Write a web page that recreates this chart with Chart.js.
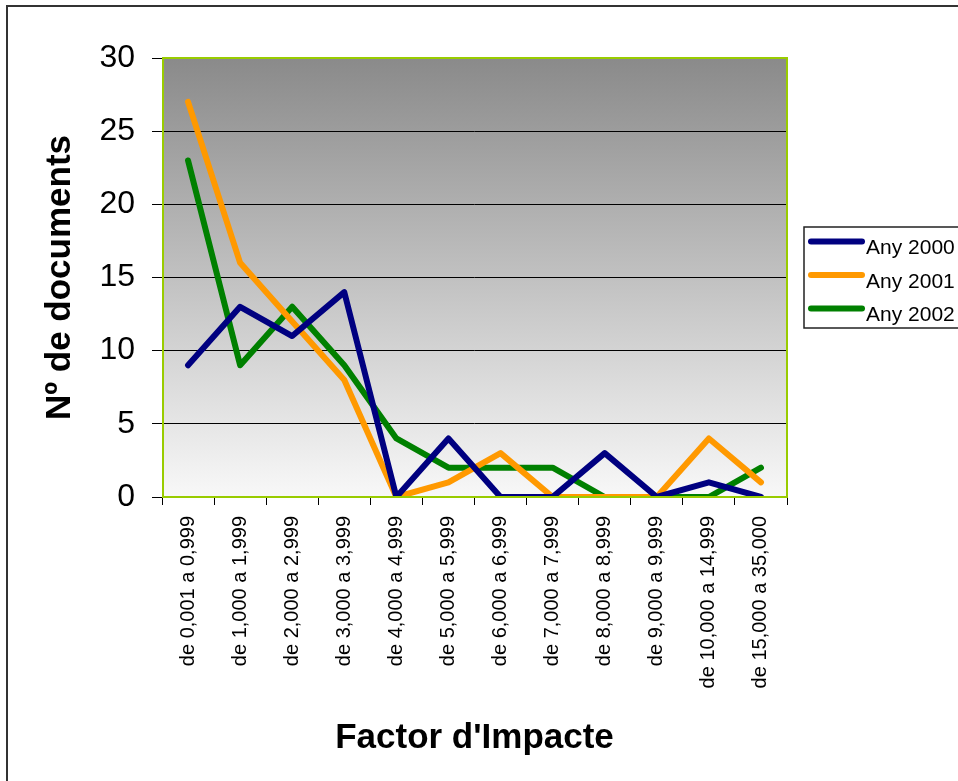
<!DOCTYPE html>
<html>
<head>
<meta charset="utf-8">
<script src="https://cdn.jsdelivr.net/npm/chart.js@4"></script>
<style>
  html, body { margin: 0; padding: 0; background: #fff; }
  #wrap { width: 958px; height: 781px; }
</style>
</head>
<body>
<div id="wrap"><canvas id="impactChart" width="958" height="781"></canvas></div>
<script>
// categories (Factor d'Impacte ranges)
const categories = ['de 0,001 a 0,999', 'de 1,000 a 1,999', 'de 2,000 a 2,999', 'de 3,000 a 3,999',
  'de 4,000 a 4,999', 'de 5,000 a 5,999', 'de 6,000 a 6,999', 'de 7,000 a 7,999',
  'de 8,000 a 8,999', 'de 9,000 a 9,999', 'de 10,000 a 14,999', 'de 15,000 a 35,000'];

// number of documents per year
const any2000 = [9, 13, 11, 14, 0, 4, 0, 0, 3, 0, 1, 0];
const any2001 = [27, 16, 12, 8, 0, 1, 3, 0, 0, 0, 4, 1];
const any2002 = [23, 9, 13, 9, 4, 2, 2, 2, 0, 0, 0, 2];

const seriesNames = ['Any 2000', 'Any 2001', 'Any 2002'];
const yTicks = [0, 5, 10, 15, 20, 25, 30];

const FONT = "Arial, 'Liberation Sans', sans-serif";

// grey gradient behind the plot + green frame + outer border
const frame = {
  id: 'frame',
  beforeDraw(chart) {
    const { ctx, chartArea: a } = chart;
    const g = ctx.createLinearGradient(0, a.top, 0, a.bottom);
    g.addColorStop(0, '#8a8a8a');
    g.addColorStop(1, '#f8f8f8');
    ctx.save();
    ctx.fillStyle = g;
    ctx.fillRect(a.left, a.top, a.right - a.left, a.bottom - a.top);
    ctx.restore();
  },
  afterDraw(chart) {
    const { ctx, chartArea: a } = chart;
    ctx.save();
    ctx.strokeStyle = '#99cc00';
    ctx.lineWidth = 2;
    ctx.strokeRect(a.left + 1, a.top, a.right - a.left - 1, a.bottom - a.top);
    // outer chart border
    ctx.strokeStyle = '#333';
    ctx.lineWidth = 2;
    ctx.strokeRect(7, 6, 1000, 1000);
    ctx.restore();
  }
};

// hand drawn legend box on the right, like the old Excel one
const boxLegend = {
  id: 'boxLegend',
  afterDraw(chart) {
    const { ctx } = chart;
    const x = 804, y = 227, rowH = 33.5;
    ctx.save();
    ctx.fillStyle = '#fff';
    ctx.fillRect(x, y, 160, 101);
    ctx.strokeStyle = '#222';
    ctx.lineWidth = 1.5;
    ctx.strokeRect(x, y, 160, 101);
    ctx.font = '21px ' + FONT;
    ctx.textBaseline = 'middle';
    chart.data.datasets.forEach((ds, i) => {
      const ly = y + 14.5 + i * rowH;
      ctx.strokeStyle = ds.borderColor;
      ctx.lineWidth = 6;
      ctx.lineCap = 'round';
      ctx.beginPath();
      ctx.moveTo(x + 7, ly);
      ctx.lineTo(x + 58, ly);
      ctx.stroke();
      ctx.fillStyle = '#000';
      ctx.fillText(ds.label, x + 62, ly + 7);
    });
    ctx.restore();
  }
};

new Chart(document.getElementById('impactChart'), {
  type: 'line',
  data: {
    labels: categories,
    datasets: [
      { label: seriesNames[0], data: any2000, borderColor: '#000080' },
      { label: seriesNames[1], data: any2001, borderColor: '#ff9900' },
      { label: seriesNames[2], data: any2002, borderColor: '#008000' }
    ]
  },
  options: {
    responsive: false,
    animation: false,
    layout: { padding: { top: 58, right: 171, left: 0, bottom: 0 } },
    elements: {
      line: { borderWidth: 6, tension: 0, fill: false, borderCapStyle: 'round', borderJoinStyle: 'round' },
      point: { radius: 0, hoverRadius: 0 }
    },
    plugins: {
      legend: { display: false },
      tooltip: { enabled: false }
    },
    scales: {
      x: {
        offset: true,
        grid: { offset: true, drawOnChartArea: false, color: '#000', tickLength: 8, tickColor: '#000' },
        border: { display: false },
        ticks: {
          color: '#000', font: { family: FONT, size: 20 },
          minRotation: 90, maxRotation: 90, autoSkip: false, padding: 11
        },
        title: {
          display: true, text: "Factor d'Impacte", color: '#000',
          font: { family: FONT, size: 35, weight: 'bold' },
          padding: { top: 0, bottom: 22 }
        },
        afterFit(scale) { scale.height = 284; }
      },
      y: {
        min: 0, max: 30,
        afterBuildTicks(scale) { scale.ticks = yTicks.map(v => ({ value: v })); },
        grid: { color: '#000', lineWidth: 1, tickLength: 10, tickColor: '#000' },
        border: { display: false },
        ticks: { color: '#000', font: { family: FONT, size: 32 }, padding: 17 },
        title: {
          display: true, text: 'Nº de documents', color: '#000',
          font: { family: FONT, size: 35, weight: 'bold' },
          padding: { top: 39, bottom: 0 }
        },
        afterFit(scale) { scale.width = 162; }
      }
    }
  },
  plugins: [frame, boxLegend]
});
</script>
</body>
</html>
